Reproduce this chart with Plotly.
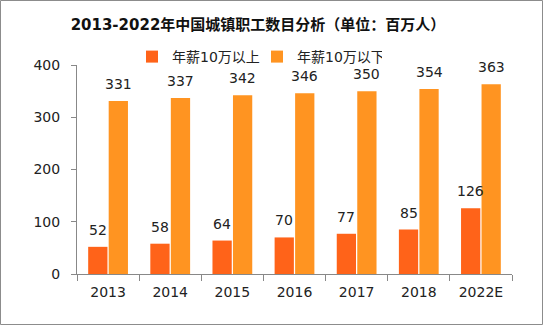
import plotly.graph_objects as go

years = ["2013", "2014", "2015", "2016", "2017", "2018", "2022E"]
above_10w = [52, 58, 64, 70, 77, 85, 126]
below_10w = [331, 337, 342, 346, 350, 354, 363]
series_names = ["年薪10万以上", "年薪10万以下"]
title_text = "2013-2022年中国城镇职工数目分析（单位：百万人）"

RED = "#FF6319"
ORANGE = "#FF9421"
FONT = "DejaVu Sans, Noto Sans CJK SC, sans-serif"

W, H = 543, 325
ML, MR, MT, MB = 77, 31, 65, 51
PW, PH = W - ML - MR, H - MT - MB

fig = go.Figure()
fig.add_bar(x=years, y=above_10w, name=series_names[0], marker_color=RED,
            marker_line_width=0)
fig.add_bar(x=years, y=below_10w, name=series_names[1], marker_color=ORANGE,
            marker_line_width=0)

cat_px = PW / len(years)
bargap = 0.34
off = (1 - bargap) / 4 * cat_px

annotations = []
for series, shift in ((above_10w, -off), (below_10w, off)):
    for i, v in enumerate(series):
        annotations.append(dict(x=i, y=v, text=str(v), showarrow=False,
                                xshift=shift, yshift=17, yanchor="middle",
                                font=dict(size=14, color="#222222", family=FONT)))

fig.update_layout(
    width=W, height=H,
    margin=dict(l=ML, r=MR, t=MT, b=MB),
    paper_bgcolor="white", plot_bgcolor="white",
    barmode="group", bargap=bargap, bargroupgap=0.06,
    title=dict(text=f"<b>{title_text}</b>", x=(258) / W, xanchor="center",
               y=1 - 25 / H, yanchor="middle",
               font=dict(size=15, color="#111111", family=FONT)),
    legend=dict(orientation="h", x=(132 - ML) / PW, xanchor="left",
                y=1 + (MT - 57) / PH, yanchor="middle",
                font=dict(size=14, color="#222222", family=FONT),
                bgcolor="rgba(0,0,0,0)", itemwidth=30, tracegroupgap=0,
                entrywidth=80, entrywidthmode="pixels"),
    xaxis=dict(type="category", range=[-0.5, len(years) - 0.5],
               showline=True, linecolor="#888888", linewidth=1,
               ticks="outside", tickson="boundaries", ticklen=6, tickcolor="#888888",
               showgrid=False, ticklabelstandoff=5, tickangle=0,
               tickfont=dict(size=14, color="#222222", family=FONT)),
    yaxis=dict(range=[0, 400], tickvals=[0, 100, 200, 300, 400], showline=True,
               linecolor="#888888", linewidth=1, ticks="outside", ticklen=5,
               tickcolor="#888888", showgrid=False, zeroline=False,
               ticklabelstandoff=8,
               tickfont=dict(size=14, color="#222222", family=FONT)),
    annotations=annotations,
    shapes=[dict(type="rect", xref="paper", yref="paper",
                 x0=(-ML + 0.5) / PW, x1=1 + (MR - 0.5) / PW,
                 y0=(-MB + 0.5) / PH, y1=1 + (MT - 0.5) / PH,
                 line=dict(color="#8c8c8c", width=1), fillcolor="rgba(0,0,0,0)",
                 layer="above")],
)

fig.write_html("out.html")
